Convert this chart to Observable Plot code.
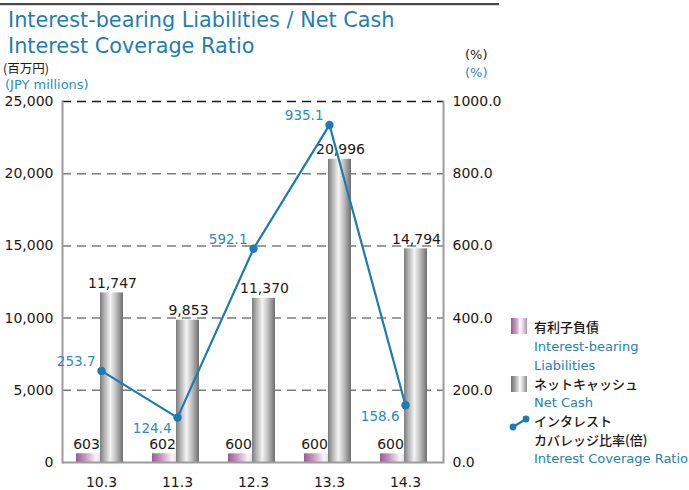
<!DOCTYPE html>
<html>
<head>
<meta charset="utf-8">
<script src="https://cdn.jsdelivr.net/npm/d3@7"></script>
<script src="https://cdn.jsdelivr.net/npm/@observablehq/plot@0.6"></script>
<style>
  html, body { margin: 0; padding: 0; background: #fff; }
  #chart { position: relative; width: 689px; height: 490px; overflow: hidden; }
</style>
</head>
<body>
<div id="chart"></div>
<script>
// ---- data ----
const categories = ["10.3", "11.3", "12.3", "13.3", "14.3"];
const liabilities = [603, 602, 600, 600, 600];
const netCash = [11747, 9853, 11370, 20996, 14794];
const coverageRatio = [253.7, 124.4, 592.1, 935.1, 158.6];
const leftTicks = [0, 5000, 10000, 15000, 20000, 25000];
const rightTicks = [0, 200, 400, 600, 800, 1000];
const titleLines = ["Interest-bearing Liabilities / Net Cash", "Interest Coverage Ratio"];
const leftUnitJa = "(百万円)";
const leftUnitEn = "(JPY millions)";
const rightUnit = "(%)";
const legendLiabJa = "有利子負債";
const legendLiabEn = ["Interest-bearing", "Liabilities"];
const legendCashJa = "ネットキャッシュ";
const legendCashEn = ["Net Cash"];
const legendRatioJa = ["インタレスト", "カバレッジ比率(倍)"];
const legendRatioEn = ["Interest Coverage Ratio"];

// ---- build table ----
const ratioScale = 25000 / 1000; // right axis maps 0–1000 onto left 0–25,000
const rows = categories.map((c, i) => ({
  cat: c,
  liab: liabilities[i],
  cash: netCash[i],
  ratio: coverageRatio[i],
  below: i > 0 && coverageRatio[i] < coverageRatio[i - 1]
}));

const BLUE = "#1b7bb2";
const LBLUE = "#2a8cc4";
const INK = "#231815";
const FONT = "'DejaVu Sans', Verdana, sans-serif";

const chart = Plot.plot({
  width: 689,
  height: 490,
  marginTop: 101,
  marginBottom: 28,
  marginLeft: 62,
  marginRight: 246,
  style: { fontFamily: FONT, color: INK, background: "transparent" },
  x: { domain: categories, padding: 0 },
  y: { domain: [0, 25000] },
  marks: [
    // dashed grid lines
    Plot.ruleY(leftTicks.filter(d => d > 0 && d < 25000), {
      stroke: "#7d7d7d", strokeWidth: 1.5, strokeDasharray: "9,6"
    }),
    Plot.ruleY([25000], { stroke: INK, strokeWidth: 1.5, strokeDasharray: "9,6" }),
    // bars
    Plot.barY(rows, {
      x: "cat", y: "liab", fill: "url(#gradLiab)", insetLeft: 13, insetRight: 35
    }),
    Plot.barY(rows, {
      x: "cat", y: "cash", fill: "url(#gradCash)", insetLeft: 37, insetRight: 16
    }),
    // frame lines
    Plot.frame({ anchor: "left", stroke: "#9c9c9c", strokeWidth: 2 }),
    Plot.frame({ anchor: "right", stroke: "#9c9c9c", strokeWidth: 2 }),
    Plot.ruleY([0], { stroke: "#9c9c9c", strokeWidth: 2 }),
    // bar labels
    Plot.text(rows, {
      x: "cat", y: "liab", text: d => d3.format(",")(d.liab), dx: -15, dy: -5,
      lineAnchor: "bottom", fontSize: 14, fill: INK
    }),
    Plot.text(rows, {
      x: "cat", y: "cash", text: d => d3.format(",")(d.cash), dx: 11, dy: -5,
      lineAnchor: "bottom", fontSize: 14, fill: INK
    }),
    // ratio line
    Plot.line(rows, { x: "cat", y: d => d.ratio * ratioScale, stroke: BLUE, strokeWidth: 2.2 }),
    Plot.dot(rows, { x: "cat", y: d => d.ratio * ratioScale, r: 4.2, fill: BLUE, stroke: "none" }),
    Plot.text(rows.filter(d => !d.below), {
      x: "cat", y: d => d.ratio * ratioScale, text: d => d.ratio.toFixed(1),
      textAnchor: "end", dx: -6, dy: -9, fontSize: 13.5, fill: LBLUE
    }),
    Plot.text(rows.filter(d => d.below), {
      x: "cat", y: d => d.ratio * ratioScale, text: d => d.ratio.toFixed(1),
      textAnchor: "end", dx: -6, dy: 11, fontSize: 13.5, fill: LBLUE
    }),
    // axes
    Plot.axisY(leftTicks, {
      anchor: "left", tickSize: 0, tickPadding: 9, tickFormat: d3.format(","),
      fontSize: 14, fill: INK, label: null
    }),
    Plot.axisY(rightTicks.map(d => d * ratioScale), {
      anchor: "right", tickSize: 0, tickPadding: 9, tickFormat: d => (d / ratioScale).toFixed(1),
      fontSize: 14, fill: INK, label: null
    }),
    Plot.axisX({ tickSize: 0, tickPadding: 15, fontSize: 14, fill: INK, label: null })
  ]
});

document.getElementById("chart").appendChild(chart);

// gradients
const svg = d3.select(chart);
const defs = svg.insert("defs", ":first-child");
function grad(id, stops) {
  const g = defs.append("linearGradient").attr("id", id)
    .attr("x1", "0%").attr("x2", "100%").attr("y1", "0%").attr("y2", "0%");
  stops.forEach(([o, c]) => g.append("stop").attr("offset", o).attr("stop-color", c));
}
grad("gradCash", [["0%", "#7c7c7c"], ["20%", "#b4b4b4"], ["45%", "#f4f4f4"], ["70%", "#bdbdbd"], ["100%", "#6e6e6e"]]);
grad("gradLiab", [["0%", "#9a5a94"], ["35%", "#c79cc2"], ["72%", "#fbf6fa"], ["100%", "#d9c4d6"]]);
grad("legLiab", [["0%", "#9a5a94"], ["40%", "#d2b0ce"], ["55%", "#ffffff"], ["75%", "#e6d6e4"], ["100%", "#b98ab4"]]);
grad("legCash", [["0%", "#6e6e6e"], ["40%", "#c8c8c8"], ["55%", "#ffffff"], ["75%", "#cfcfcf"], ["100%", "#8a8a8a"]]);

// title / headers / legend (text drawn into the same SVG)
const ov = svg.append("g").attr("font-family", FONT).attr("text-anchor", "start");
ov.append("rect").attr("x", 0).attr("y", 3).attr("width", 499).attr("height", 2.2).attr("fill", "#4a4646");
titleLines.forEach((t, i) => ov.append("text").attr("x", 8).attr("y", 27 + i * 26)
  .attr("font-size", 20.8).attr("fill", "#1f7db4").text(t));
const JA = "'Noto Sans CJK JP', " + FONT;
ov.append("text").attr("x", 3).attr("y", 73).attr("font-family", JA).attr("font-size", 12.5).attr("fill", INK).text(leftUnitJa);
ov.append("text").attr("x", 5).attr("y", 89).attr("font-size", 13).attr("fill", LBLUE).text(leftUnitEn);
ov.append("text").attr("x", 465).attr("y", 59).attr("font-size", 13).attr("fill", INK).text(rightUnit);
ov.append("text").attr("x", 465).attr("y", 77).attr("font-size", 13).attr("fill", LBLUE).text(rightUnit);

// legend
const LX = 534;
ov.append("rect").attr("x", 511).attr("y", 318).attr("width", 16).attr("height", 16).attr("fill", "url(#legLiab)");
ov.append("rect").attr("x", 511).attr("y", 376).attr("width", 16).attr("height", 16).attr("fill", "url(#legCash)");
ov.append("line").attr("x1", 513).attr("y1", 427).attr("x2", 526).attr("y2", 419).attr("stroke", BLUE).attr("stroke-width", 2.2);
ov.append("circle").attr("cx", 513).attr("cy", 427).attr("r", 3.4).attr("fill", BLUE);
ov.append("circle").attr("cx", 526).attr("cy", 419).attr("r", 3.4).attr("fill", BLUE);
function ja(t, y) { ov.append("text").attr("x", LX).attr("y", y).attr("font-family", JA).attr("font-size", 13).attr("font-weight", 500).attr("fill", INK).text(t); }
function en(t, y) { ov.append("text").attr("x", LX).attr("y", y).attr("font-size", 13).attr("fill", "#2580b8").text(t); }
ja(legendLiabJa, 332);
legendLiabEn.forEach((t, i) => en(t, 351 + i * 19));
ja(legendCashJa, 389);
legendCashEn.forEach((t, i) => en(t, 407 + i * 19));
legendRatioJa.forEach((t, i) => ja(t, 426 + i * 18.5));
legendRatioEn.forEach((t, i) => en(t, 463 + i * 19));
</script>
</body>
</html>
